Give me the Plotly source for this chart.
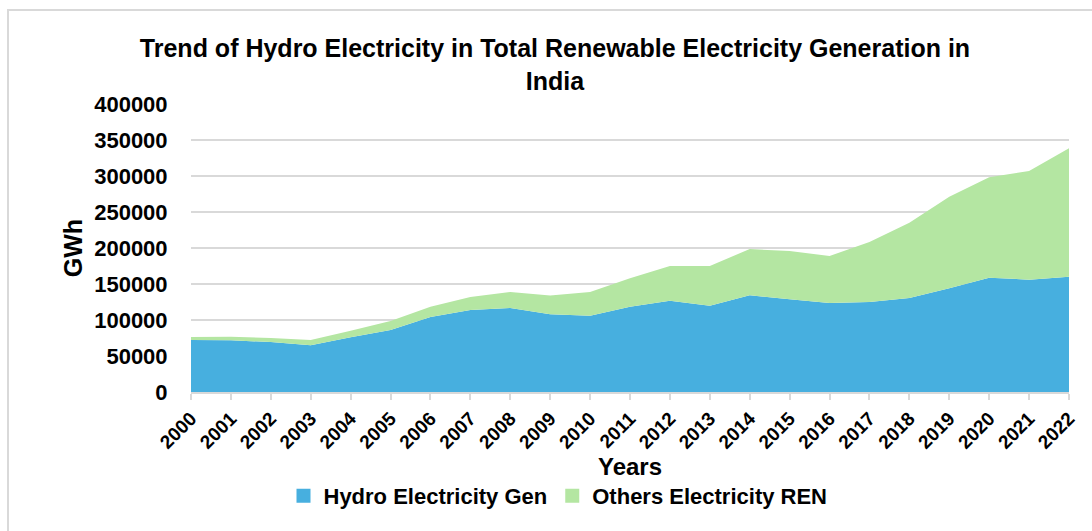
import plotly.graph_objects as go

years = list(range(2000, 2023))
hydro = [72200, 71800, 69400, 64800, 76000, 86000, 104000, 114000, 116700, 108000, 106000,
         118500, 126900, 119900, 134300, 128700, 123600, 125000, 130600, 144000, 158800, 156000, 160200]
total = [76400, 76800, 75000, 72200, 85200, 98600, 118500, 132000, 139000, 134000, 139000,
         158000, 175000, 175000, 198600, 195800, 188900, 208300, 235200, 271300, 298200, 307000, 338500]
others = [t - h for t, h in zip(total, hydro)]

BLUE = "rgb(71,175,223)"
GREEN = "rgb(180,230,162)"
FONT = "Liberation Sans, Arial, sans-serif"

fig = go.Figure()
fig.add_trace(go.Scatter(x=years, y=hydro, stackgroup="one", mode="none",
                         fillcolor=BLUE, name="Hydro Electricity Gen", showlegend=False,
                         hoverinfo="x+y"))
fig.add_trace(go.Scatter(x=years, y=others, stackgroup="one", mode="none",
                         fillcolor=GREEN, name="Others Electricity REN", showlegend=False,
                         hoverinfo="x+y"))
# legend entries with square markers
fig.add_trace(go.Scatter(x=[None], y=[None], mode="markers", name="Hydro Electricity Gen",
                         marker=dict(symbol="square", size=14, color=BLUE)))
fig.add_trace(go.Scatter(x=[None], y=[None], mode="markers", name="Others Electricity REN",
                         marker=dict(symbol="square", size=14, color=GREEN)))

fig.update_layout(
    width=1092, height=531,
    margin=dict(l=191, r=23, t=104, b=139),
    paper_bgcolor="white", plot_bgcolor="white",
    font=dict(family=FONT, color="black"),
    title=dict(text="Trend of Hydro Electricity in Total Renewable Electricity Generation in<br>India",
               x=555 / 1092, xanchor="center", xref="container",
               y=1 - 57 / 531, yanchor="middle", yref="container",
               font=dict(size=25, weight="bold", family=FONT)),
    showlegend=True,
    legend=dict(orientation="h", x=(558 - 191) / 878, xanchor="center",
                y=(392 - 496) / 288, yanchor="middle", traceorder="normal",
                font=dict(size=22, weight="bold", family=FONT),
                itemwidth=30, tracegroupgap=0, bgcolor="rgba(0,0,0,0)"),
    xaxis=dict(range=[2000, 2022], tickmode="array", tickvals=years,
               ticktext=[str(y) for y in years], tickangle=-45,
               tickfont=dict(size=19, weight="bold", family=FONT),
               showgrid=False, showline=True, linecolor="#d9d9d9", linewidth=2,
               ticks="outside", ticklen=6, tickcolor="#d9d9d9", tickwidth=2,
               title=dict(text="Years", font=dict(size=24, weight="bold", family=FONT), standoff=0),
               zeroline=False, fixedrange=True),
    yaxis=dict(range=[0, 400000], tickmode="array",
               tickvals=list(range(0, 400001, 50000)), tickformat="d",
               tickfont=dict(size=22, weight="bold", family=FONT),
               showgrid=True, gridcolor="#d9d9d9", gridwidth=1.5,
               showline=False, zeroline=False,
               ticks="outside", ticklen=18, tickcolor="rgba(0,0,0,0)",
               title=dict(text="GWh", font=dict(size=25, weight="bold", family=FONT), standoff=4),
               fixedrange=True),
    shapes=[dict(type="rect", xref="paper", yref="paper",
                 x0=(8 - 191) / 878, x1=(1100 - 191) / 878,
                 y0=(392 - 540) / 288, y1=(392 - 10) / 288,
                 line=dict(color="#d9d9d9", width=2), fillcolor="rgba(0,0,0,0)", layer="below")],
)

fig.write_html("out.html")
